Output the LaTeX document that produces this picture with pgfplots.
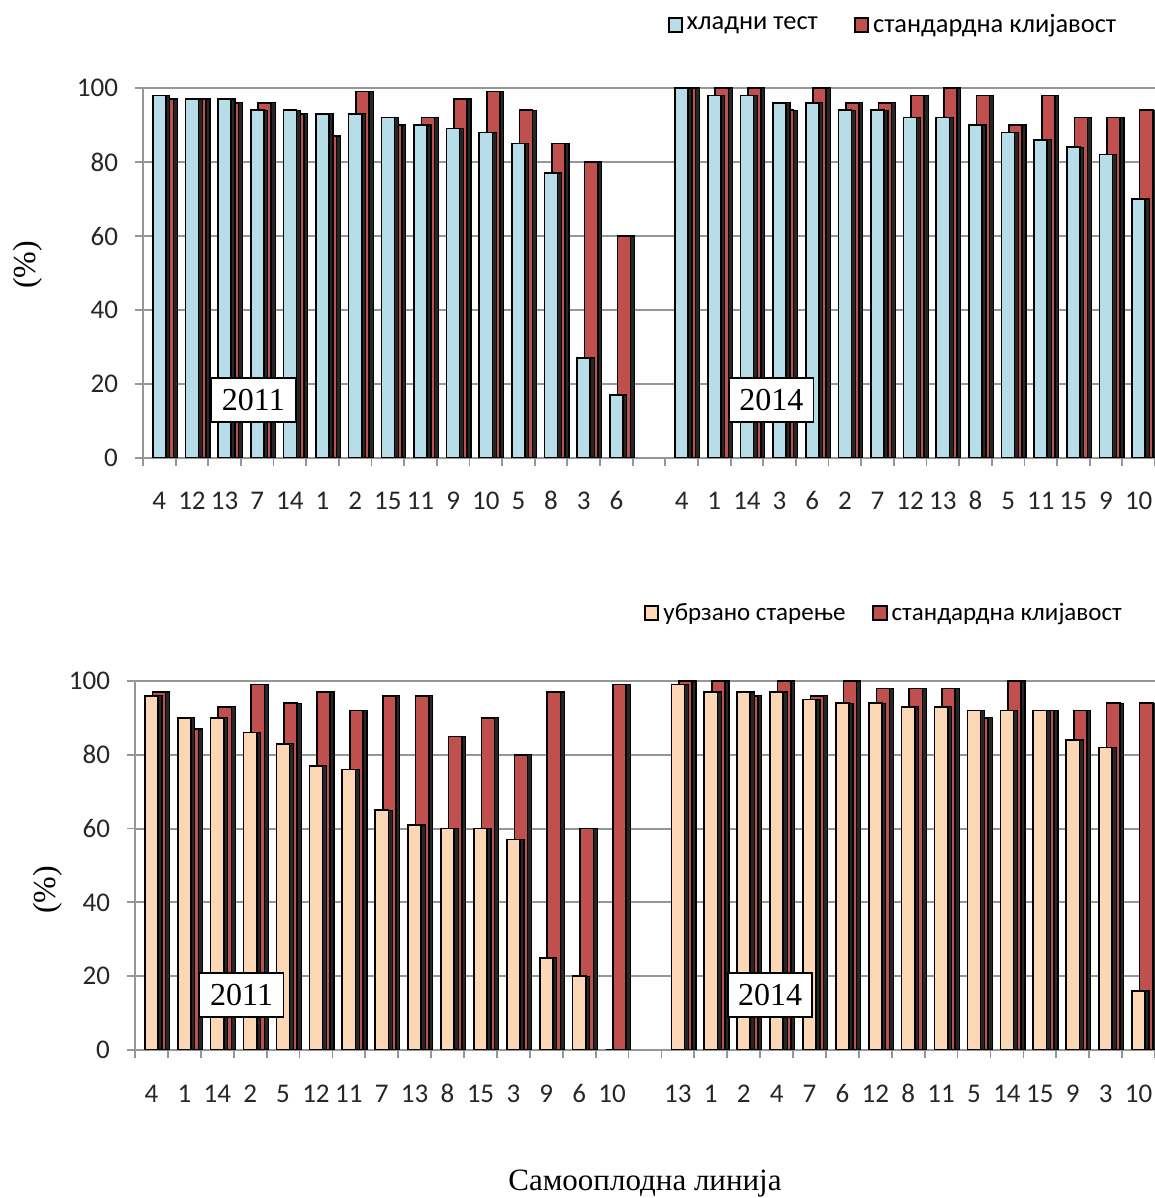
\documentclass[border=0pt]{standalone}
\usepackage{fontspec}
\setmainfont{Liberation Serif}
\newfontfamily\calib{Carlito}
\usepackage{pgfplots}
\usepackage{pgfplotstable}
\pgfplotsset{compat=1.18}

\definecolor{cBlue}{RGB}{183,222,232}
\definecolor{cRed}{RGB}{192,80,77}
\definecolor{cPeach}{RGB}{252,215,182}
\definecolor{cGrid}{RGB}{150,150,150}

\newcommand\tickfont{\calib\fontsize{13.5}{15}\selectfont}
\newcommand\yrfont{\fontsize{16}{18}\selectfont}

% x = slot centre; slot 15 is the empty gap between 2011 and 2014
\pgfplotstableread{
x    a   s
0.5  98  97
1.5  97  97
2.5  97  96
3.5  94  96
4.5  94  93
5.5  93  87
6.5  93  99
7.5  92  90
8.5  90  92
9.5  89  97
10.5 88  99
11.5 85  94
12.5 77  85
13.5 27  80
14.5 17  60
16.5 100 100
17.5 98  100
18.5 98  100
19.5 96  94
20.5 96  100
21.5 94  96
22.5 94  96
23.5 92  98
24.5 92  100
25.5 90  98
26.5 88  90
27.5 86  98
28.5 84  92
29.5 82  92
30.5 70  94
}\cold

\pgfplotstableread{
x    a   s
0.5  96  97
1.5  90  87
2.5  90  93
3.5  86  99
4.5  83  94
5.5  77  97
6.5  76  92
7.5  65  96
8.5  61  96
9.5  60  85
10.5 60  90
11.5 57  80
12.5 25  97
13.5 20  60
14.5 0   99
16.5 99  100
17.5 97  100
18.5 97  96
19.5 97  100
20.5 95  96
21.5 94  100
22.5 94  98
23.5 93  98
24.5 93  98
25.5 92  90
26.5 92  100
27.5 92  92
28.5 84  92
29.5 82  94
30.5 16  94
}\aged

\tikzset{
  yrbox/.style={draw=black, fill=white, line width=0.8pt, font=\yrfont,
    minimum width=42pt, minimum height=22pt, inner sep=0pt},
}

\pgfplotsset{
  panel/.style={
    scale only axis,
    xmin=0, xmax=31, ymin=0, ymax=100,
    axis x line*=bottom, axis y line*=left,
    axis line style={-, cGrid, line width=1pt},
    ytick={0,20,...,100},
    ymajorgrids, grid style={cGrid, line width=1pt},
    xtick={0,...,31}, x tick label as interval,
    tick align=outside, major tick length=4pt,
    tick style={cGrid, line width=0.9pt},
    ticklabel style={font=\tickfont, text=black!85},
    xticklabel style={text height=1.4ex, text depth=0pt},
    yticklabel style={xshift=-5pt},
    /pgf/number format/assume math mode=true,
    legend image code/.code={\draw[##1,draw=black,line width=1pt] (0pt,-3.3pt) rectangle (6.6pt,3.3pt);},
    legend style={draw=none, fill=none, legend columns=2},
  },
  face/.style={ybar, bar width=0.40, draw=black, line width=0.8pt, forget plot},
  side/.style={ybar, bar width=0.40, fill=black!85, draw=black, line width=0.6pt, forget plot},
}

\begin{document}
\begin{tikzpicture}
\useasboundingbox (0,0) rectangle (577.5pt,599pt);

% top panel: cold test
\begin{axis}[panel, at={(71.5pt,370pt)}, anchor=south west,
    width=506pt, height=185pt,
    xticklabels={4,12,13,7,14,1,2,15,11,9,10,5,8,3,6,{},4,1,14,3,6,2,7,12,13,8,5,11,15,9,10},
    xticklabel style={yshift=-12pt},
    legend style={at={(0.512,1.17)}, anchor=west, font=\calib\fontsize{13.2}{15}\selectfont,
      /tikz/every even column/.append style={column sep=16pt}}]
  \addlegendimage{fill=cBlue}\addlegendentry{хладни тест}
  \addlegendimage{fill=cRed}\addlegendentry{стандардна клијавост}
  \addplot[side, bar shift=0.35] table[x=x, y=s] {\cold};
  \addplot[face, fill=cRed, bar shift=0.23] table[x=x, y=s] {\cold};
  \addplot[side, bar shift=0.12] table[x=x, y=a] {\cold};
  \addplot[face, fill=cBlue, bar shift=0] table[x=x, y=a] {\cold};
  \node[yrbox] at (axis cs:3.38,15.7) {2011};
  \node[yrbox] at (axis cs:19.25,15.7) {2014};
\end{axis}

% bottom panel: accelerated ageing
\begin{axis}[panel, at={(67.5pt,74pt)}, anchor=south west,
    width=510pt, height=184.5pt,
    xticklabels={4,1,14,2,5,12,11,7,13,8,15,3,9,6,10,{},13,1,2,4,7,6,12,8,11,5,14,15,9,3,10},
    xticklabel style={yshift=-12.5pt},
    legend style={at={(0.493,1.184)}, anchor=west, font=\calib\fontsize{12.5}{14}\selectfont,
      /tikz/every even column/.append style={column sep=11.5pt}}]
  \addlegendimage{fill=cPeach}\addlegendentry{убрзано старење}
  \addlegendimage{fill=cRed}\addlegendentry{стандардна клијавост}
  \addplot[side, bar shift=0.35] table[x=x, y=s] {\aged};
  \addplot[face, fill=cRed, bar shift=0.23] table[x=x, y=s] {\aged};
  \addplot[side, bar shift=0.12] table[x=x, y=a] {\aged};
  \addplot[face, fill=cPeach, bar shift=0] table[x=x, y=a] {\aged};
  \node[yrbox] at (axis cs:3.24,14.9) {2011};
  \node[yrbox] at (axis cs:19.3,14.9) {2014};
\end{axis}

\node[rotate=90, font=\fontsize{16}{18}\selectfont] at (14pt,466.5pt) {(\%)};
\node[rotate=90, font=\fontsize{16}{18}\selectfont] at (24pt,154pt) {(\%)};
\node[font=\fontsize{15.5}{18}\selectfont] at (322.5pt,7pt) {Самооплодна линија};
\end{tikzpicture}
\end{document}
